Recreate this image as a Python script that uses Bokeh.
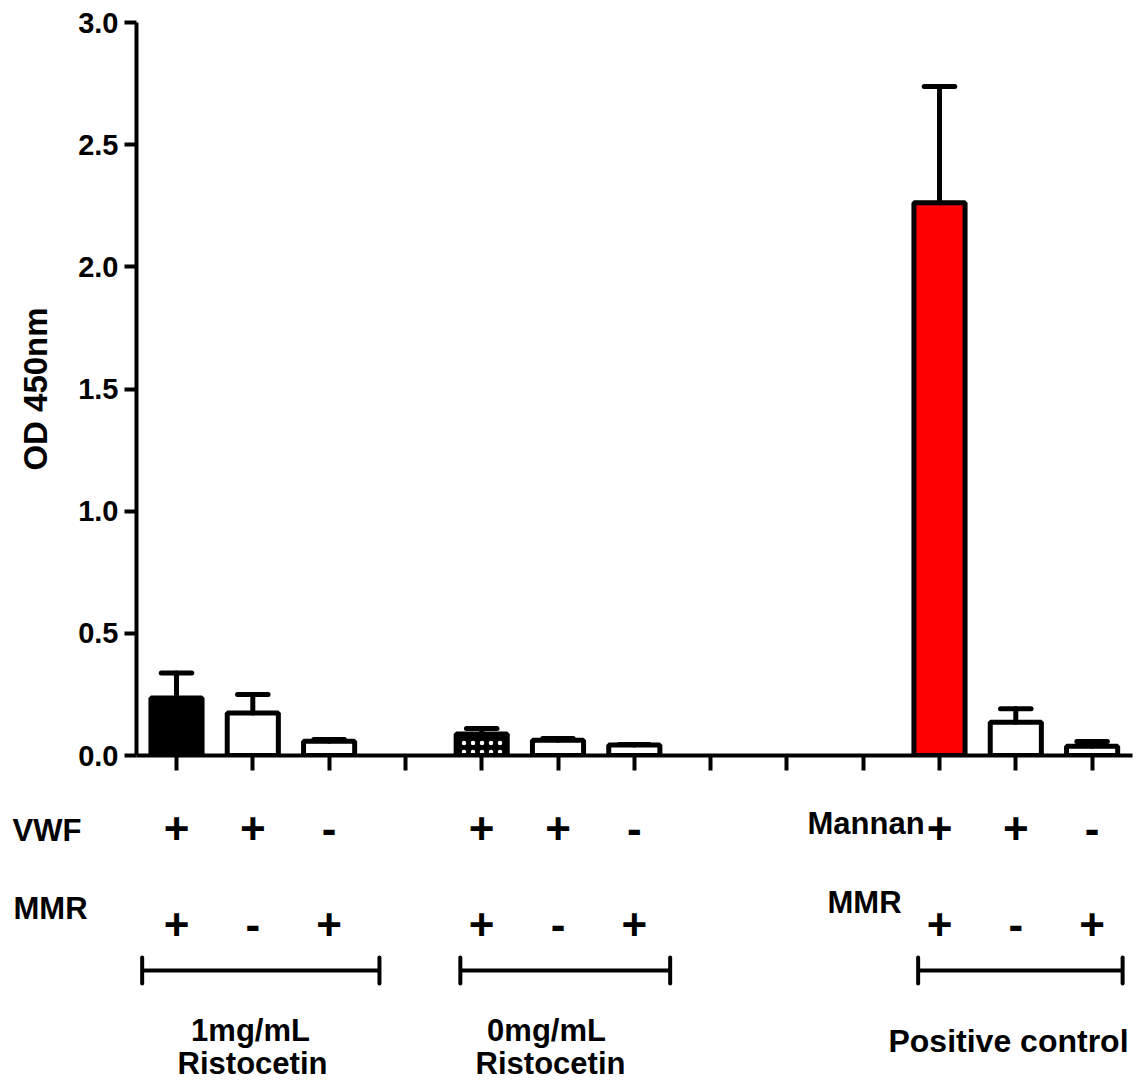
from bokeh.plotting import figure
from bokeh.models import LinearAxis, FixedTicker, Range1d, ColumnDataSource, NumeralTickFormatter
from bokeh.core.properties import value
from bokeh.embed import file_html
from bokeh.resources import INLINE

# ---------------- data ----------------
slots = list(range(13))                      # category slots on the x axis
positions = [0, 1, 2, 4, 5, 6, 10, 11, 12]   # slots that hold a bar
means = [0.235, 0.174, 0.058, 0.088, 0.062, 0.043, 2.262, 0.136, 0.038]
upper = [0.338, 0.250, 0.065, 0.111, 0.070, 0.045, 2.738, 0.191, 0.057]
fills = ["black", "white", "white", "black", "white", "white", "red", "white", "white"]
hatches = ["blank", "blank", "blank", "dot", "blank", "blank", "blank", "blank", "blank"]
row1_signs = ["+", "+", "-", "+", "+", "-", "+", "+", "-"]   # VWF / Mannan
row2_signs = ["+", "-", "+", "+", "-", "+", "+", "-", "+"]   # MMR
yticks = [0.0, 0.5, 1.0, 1.5, 2.0, 2.5, 3.0]
row_names = ["VWF", "MMR", "Mannan", "MMR"]
group_names = ["1mg/mL", "0mg/mL", "Positive control"]
group_sub = ["Ristocetin", "Ristocetin", ""]

FONT = "Liberation Sans"

# ---------------- layout constants ----------------
PX_X = 76.3          # px per slot
W = 1144
TOP_H, BOT_H = 790, 294
LEFT, TOPB, BOTB = 136, 22, 35
PX_Y = (TOP_H - TOPB - BOTB) / 3.0   # px per OD unit
X0 = 176             # pixel position of slot 0
x_start = (LEFT - X0) / PX_X
x_end = (W - X0) / PX_X

# ---------------- main chart ----------------
p = figure(width=W, height=TOP_H, x_range=Range1d(x_start, x_end), y_range=Range1d(0, 3.0),
           x_axis_type=None, y_axis_type=None, output_backend="svg", toolbar_location=None,
           min_border_left=LEFT, min_border_right=0, min_border_top=TOPB, min_border_bottom=BOTB)
p.outline_line_color = None
p.background_fill_color = "white"

yax = LinearAxis(ticker=FixedTicker(ticks=yticks, minor_ticks=[]), bounds=(0, 3),
                 formatter=NumeralTickFormatter(format="0.0"), axis_label="OD 450nm")
yax.axis_line_width = 4
yax.major_tick_line_width = 4
yax.major_tick_out = 12
yax.major_tick_in = 0
yax.minor_tick_out = 0
yax.minor_tick_in = 0
yax.major_label_standoff = 6
yax.major_label_text_font = FONT
yax.major_label_text_font_style = "bold"
yax.major_label_text_font_size = "29px"
yax.major_label_text_color = "black"
yax.axis_label_text_font = FONT
yax.axis_label_text_font_style = "bold"
yax.axis_label_text_font_size = "33px"
yax.axis_label_text_color = "black"
yax.axis_label_standoff = 21
p.add_layout(yax, "left")

xax = LinearAxis(ticker=FixedTicker(ticks=slots, minor_ticks=[]), bounds=(x_start, 12.53))
xax.axis_line_width = 4
xax.major_tick_line_width = 4
xax.major_tick_out = 15
xax.major_tick_in = 0
xax.minor_tick_out = 0
xax.minor_tick_in = 0
xax.major_label_text_font_size = "8px"
xax.major_label_text_color = None
p.add_layout(xax, "below")

src = ColumnDataSource(dict(x=positions, top=means, upper=upper, fill=fills, hatch=hatches,
                            xl=[x - 0.2 for x in positions], xr=[x + 0.2 for x in positions]))

p.vbar(x="x", top="top", bottom=0, width=0.67, fill_color="fill", line_color="black",
       line_width=5, hatch_pattern="hatch", hatch_color="white", hatch_scale=9,
       hatch_weight=0.7, source=src)
p.segment(x0="x", y0="top", x1="x", y1="upper", line_color="black", line_width=5,
          line_cap="round", source=src)
p.segment(x0="xl", y0="upper", x1="xr", y1="upper", line_color="black", line_width=5,
          line_cap="round", source=src)

# ---------------- annotation strip under the axis ----------------
def yv(px):
    """image-row pixel -> OD units on the same vertical scale"""
    return (755 - px) / PX_Y


q = figure(width=W, height=BOT_H, x_range=Range1d(-X0 / PX_X, (W - X0) / PX_X),
           y_range=Range1d(yv(TOP_H + BOT_H), yv(TOP_H)),
           x_axis_type=None, y_axis_type=None, output_backend="svg", toolbar_location=None,
           min_border_left=0, min_border_right=0, min_border_top=0, min_border_bottom=0)
q.outline_line_color = None
q.xgrid.visible = False
q.ygrid.visible = False


def txt(fig, x, y, t, size, align="center"):
    fig.text(x=x, y=y, text=t, text_align=align, text_baseline="middle",
             text_font=value(FONT), text_font_style="bold", text_font_size=size,
             text_color="black")


txt(q, positions, [yv(828)] * len(positions), row1_signs, "44px")
txt(q, positions, [yv(924)] * len(positions), row2_signs, "44px")

# row names
txt(q, [(12 - X0) / PX_X, (13 - X0) / PX_X, (807 - X0) / PX_X, (827 - X0) / PX_X],
    [yv(830), yv(908), yv(823), yv(902)], row_names, "31px", "left")

# group brackets
br_y = yv(970)
br_cap = 13 / PX_Y
g_start = [-0.45, 3.72, 9.72]
g_end = [2.66, 6.47, 12.4]
q.segment(x0=g_start, y0=[br_y] * 3, x1=g_end, y1=[br_y] * 3, line_color="black", line_width=4)
q.segment(x0=g_start + g_end, y0=[br_y - br_cap] * 6, x1=g_start + g_end,
          y1=[br_y + br_cap] * 6, line_color="black", line_width=4, line_cap="round")

# group names
txt(q, [(250 - X0) / PX_X, (546 - X0) / PX_X], [yv(1030)] * 2, group_names[:2], "31px")
txt(q, [(252 - X0) / PX_X, (550 - X0) / PX_X], [yv(1063)] * 2, group_sub[:2], "31px")
txt(q, [(1008 - X0) / PX_X], [yv(1040)], group_names[2:], "32px")

open("out.html", "w").write(file_html([p, q], INLINE))
